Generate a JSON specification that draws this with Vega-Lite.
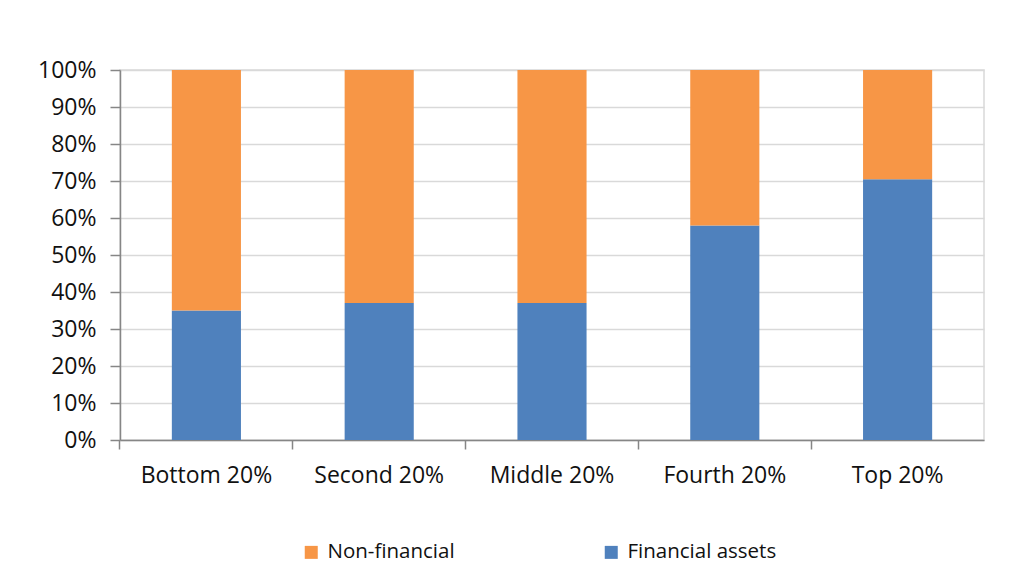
{
  "$schema": "https://vega.github.io/schema/vega-lite/v6.json",
  "width": 864,
  "height": 370,
  "autosize": {"type": "none"},
  "padding": {"left": 120, "top": 70, "right": 47, "bottom": 143},
  "background": "white",
  "config": {
    "font": "Open Sans",
    "view": {"stroke": "#D9D9D9", "strokeWidth": 1.5}
  },
  "data": {
    "values": [
      {"group": "Bottom 20%", "series": "Financial assets", "share": 0.35},
      {"group": "Bottom 20%", "series": "Non-financial", "share": 0.65},
      {"group": "Second 20%", "series": "Financial assets", "share": 0.37},
      {"group": "Second 20%", "series": "Non-financial", "share": 0.63},
      {"group": "Middle 20%", "series": "Financial assets", "share": 0.37},
      {"group": "Middle 20%", "series": "Non-financial", "share": 0.63},
      {"group": "Fourth 20%", "series": "Financial assets", "share": 0.58},
      {"group": "Fourth 20%", "series": "Non-financial", "share": 0.42},
      {"group": "Top 20%", "series": "Financial assets", "share": 0.705},
      {"group": "Top 20%", "series": "Non-financial", "share": 0.295}
    ]
  },
  "mark": {"type": "bar"},
  "encoding": {
    "x": {
      "field": "group",
      "type": "nominal",
      "sort": null,
      "scale": {"paddingInner": 0.6, "paddingOuter": 0.3},
      "axis": {
        "title": null,
        "labelAngle": 0,
        "labelFontSize": 23,
        "labelColor": "#111111",
        "labelPadding": 15,
        "bandPosition": -0.75,
        "tickSize": 9,
        "tickColor": "#868686",
        "domainColor": "#868686",
        "domainWidth": 1.5,
        "tickWidth": 1.5,
        "grid": false
      }
    },
    "y": {
      "field": "share",
      "type": "quantitative",
      "stack": "zero",
      "scale": {"domain": [0, 1]},
      "axis": {
        "title": null,
        "values": [0, 0.1, 0.2, 0.3, 0.4, 0.5, 0.6, 0.7, 0.8, 0.9, 1],
        "format": ".0%",
        "labelFontSize": 23,
        "labelColor": "#111111",
        "labelPadding": 14,
        "tickSize": 10,
        "tickColor": "#868686",
        "tickWidth": 1.5,
        "domainColor": "#868686",
        "domainWidth": 1.5,
        "gridColor": "#D9D9D9",
        "gridWidth": 1.5
      }
    },
    "color": {
      "field": "series",
      "type": "nominal",
      "scale": {
        "domain": ["Non-financial", "Financial assets"],
        "range": ["#F79646", "#4F81BD"]
      },
      "legend": {
        "title": null,
        "orient": "none",
        "direction": "horizontal",
        "legendX": 181,
        "legendY": 472,
        "symbolType": "square",
        "symbolSize": 169,
        "symbolStrokeWidth": 0,
        "labelFontSize": 20.5,
        "labelColor": "#111111",
        "labelOffset": 6,
        "columnPadding": 146
      }
    },
    "order": {"field": "series", "sort": "ascending"}
  }
}
